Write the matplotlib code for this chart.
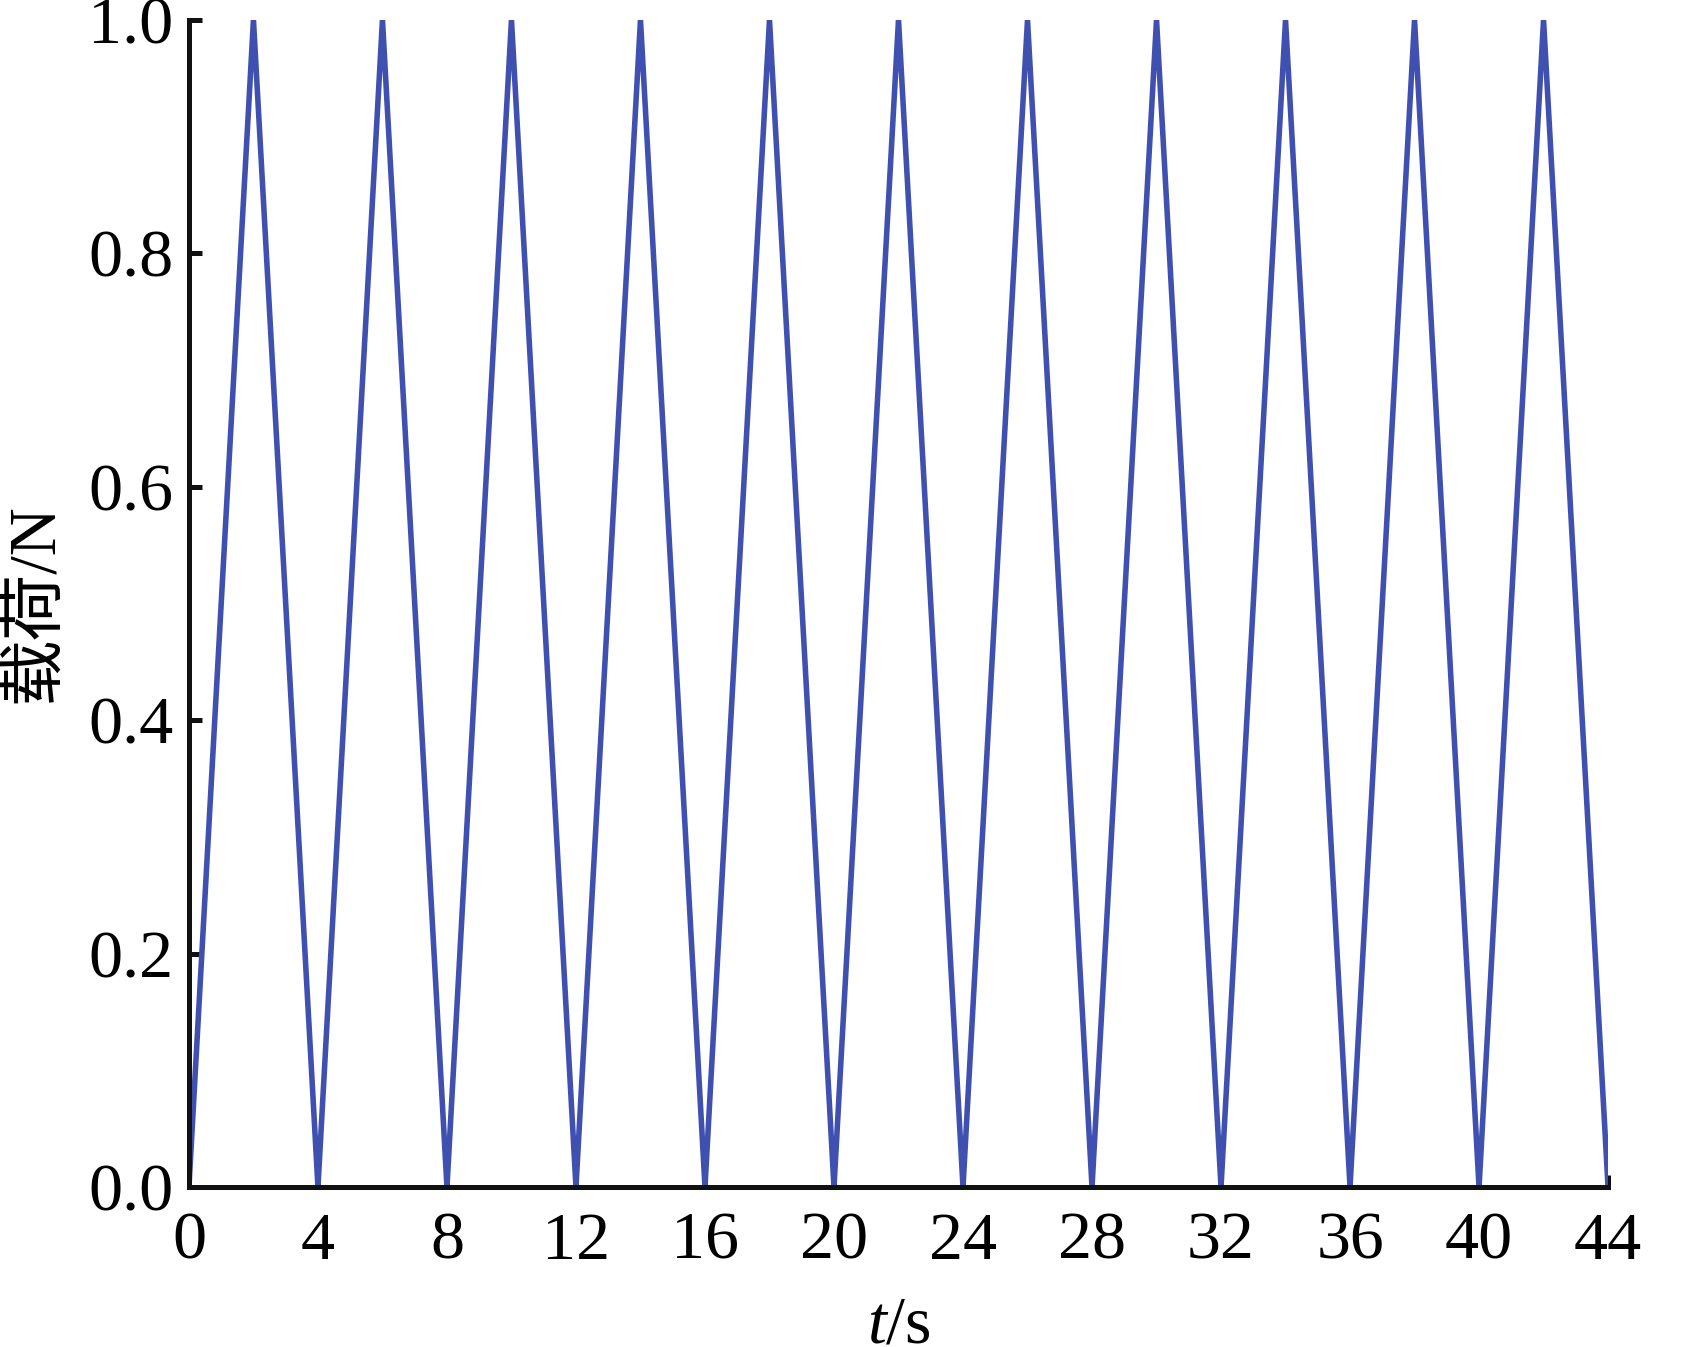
import matplotlib
matplotlib.use("Agg")
import matplotlib.pyplot as plt

# triangle load: 0 at multiples of 4 s, peak 1 N in between
t = [0, 2, 4, 6, 8, 10, 12, 14, 16, 18, 20, 22, 24, 26, 28, 30, 32, 34, 36, 38, 40, 42, 44]
load = [0, 1, 0, 1, 0, 1, 0, 1, 0, 1, 0, 1, 0, 1, 0, 1, 0, 1, 0, 1, 0, 1, 0]
xticks = [0, 4, 8, 12, 16, 20, 24, 28, 32, 36, 40, 44]
yticks = [0.0, 0.2, 0.4, 0.6, 0.8, 1.0]

plt.rcParams['font.family'] = ['Liberation Serif', 'Noto Sans CJK SC']
plt.rcParams['mathtext.fontset'] = 'custom'
plt.rcParams['mathtext.it'] = 'Liberation Serif:italic'
plt.rcParams['mathtext.rm'] = 'Liberation Serif'

fig = plt.figure(figsize=(16.84, 13.47), dpi=100)
ax = fig.add_axes([0.1122, 0.1188, 0.8427, 0.8664])

ax.plot(t, load, color='#4050b0', lw=4.0, solid_joinstyle='miter')

ax.set_xlim(0, 44)
ax.set_ylim(0, 1.0)
ax.set_xticks(xticks)
ax.set_yticks(yticks)
ax.set_yticklabels(['%.1f' % v for v in yticks])

for s in ['top', 'right']:
    ax.spines[s].set_visible(False)
for s in ['left', 'bottom']:
    ax.spines[s].set_linewidth(3.6)
    ax.spines[s].set_color('#111111')

ax.tick_params(direction='in', length=9, width=3.6, labelsize=49, color='#111111')
ax.tick_params(axis='x', pad=18)
ax.tick_params(axis='y', pad=11)

ax.set_xlabel(r'$t$/s', fontsize=49, labelpad=16)
ax.set_ylabel('载荷/N', fontsize=48, labelpad=16)

fig.savefig('out.png', dpi=100)
